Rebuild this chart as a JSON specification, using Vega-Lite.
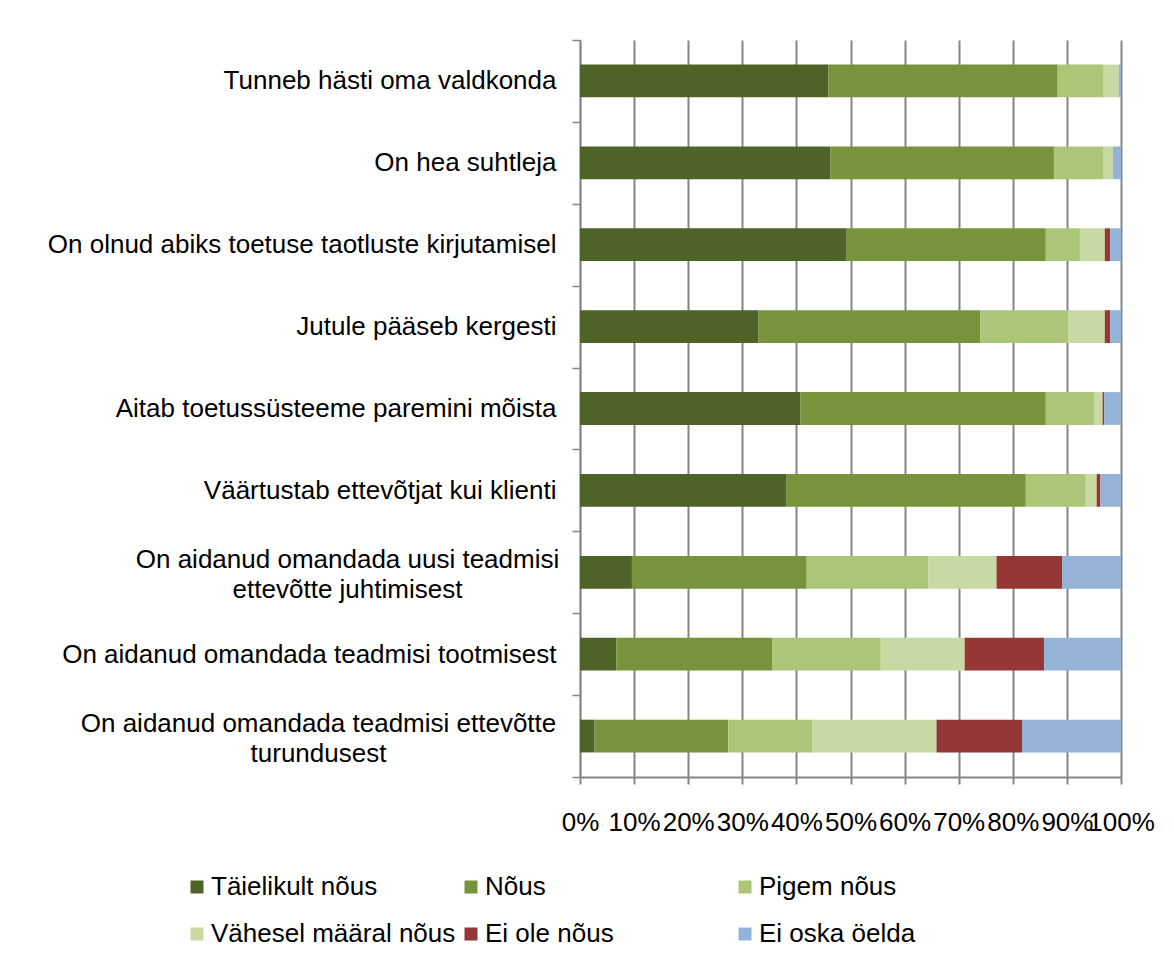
{
  "$schema": "https://vega.github.io/schema/vega-lite/v6.json",
  "width": 541,
  "height": 737,
  "autosize": {"type": "none"},
  "padding": {"left": 580, "top": 40, "right": 53, "bottom": 183},
  "background": "white",
  "config": {"view": {"stroke": null}, "font": "Liberation Sans"},
  "data": {"values": [
    {"q": "Tunneb hästi oma valdkonda", "n": 1, "s": "Täielikult nõus", "v": 45.9},
    {"q": "Tunneb hästi oma valdkonda", "n": 2, "s": "Nõus", "v": 42.4},
    {"q": "Tunneb hästi oma valdkonda", "n": 3, "s": "Pigem nõus", "v": 8.5},
    {"q": "Tunneb hästi oma valdkonda", "n": 4, "s": "Vähesel määral nõus", "v": 2.8},
    {"q": "Tunneb hästi oma valdkonda", "n": 5, "s": "Ei ole nõus", "v": 0},
    {"q": "Tunneb hästi oma valdkonda", "n": 6, "s": "Ei oska öelda", "v": 0.4},
    {"q": "On hea suhtleja", "n": 1, "s": "Täielikult nõus", "v": 46.3},
    {"q": "On hea suhtleja", "n": 2, "s": "Nõus", "v": 41.3},
    {"q": "On hea suhtleja", "n": 3, "s": "Pigem nõus", "v": 9.2},
    {"q": "On hea suhtleja", "n": 4, "s": "Vähesel määral nõus", "v": 1.7},
    {"q": "On hea suhtleja", "n": 5, "s": "Ei ole nõus", "v": 0},
    {"q": "On hea suhtleja", "n": 6, "s": "Ei oska öelda", "v": 1.5},
    {"q": "On olnud abiks toetuse taotluste kirjutamisel", "n": 1, "s": "Täielikult nõus", "v": 49.3},
    {"q": "On olnud abiks toetuse taotluste kirjutamisel", "n": 2, "s": "Nõus", "v": 36.8},
    {"q": "On olnud abiks toetuse taotluste kirjutamisel", "n": 3, "s": "Pigem nõus", "v": 6.3},
    {"q": "On olnud abiks toetuse taotluste kirjutamisel", "n": 4, "s": "Vähesel määral nõus", "v": 4.6},
    {"q": "On olnud abiks toetuse taotluste kirjutamisel", "n": 5, "s": "Ei ole nõus", "v": 1.0},
    {"q": "On olnud abiks toetuse taotluste kirjutamisel", "n": 6, "s": "Ei oska öelda", "v": 2.0},
    {"q": "Jutule pääseb kergesti", "n": 1, "s": "Täielikult nõus", "v": 33.0},
    {"q": "Jutule pääseb kergesti", "n": 2, "s": "Nõus", "v": 41.0},
    {"q": "Jutule pääseb kergesti", "n": 3, "s": "Pigem nõus", "v": 16.2},
    {"q": "Jutule pääseb kergesti", "n": 4, "s": "Vähesel määral nõus", "v": 6.8},
    {"q": "Jutule pääseb kergesti", "n": 5, "s": "Ei ole nõus", "v": 1.0},
    {"q": "Jutule pääseb kergesti", "n": 6, "s": "Ei oska öelda", "v": 2.0},
    {"q": "Aitab toetussüsteeme paremini mõista", "n": 1, "s": "Täielikult nõus", "v": 40.7},
    {"q": "Aitab toetussüsteeme paremini mõista", "n": 2, "s": "Nõus", "v": 45.4},
    {"q": "Aitab toetussüsteeme paremini mõista", "n": 3, "s": "Pigem nõus", "v": 8.9},
    {"q": "Aitab toetussüsteeme paremini mõista", "n": 4, "s": "Vähesel määral nõus", "v": 1.6},
    {"q": "Aitab toetussüsteeme paremini mõista", "n": 5, "s": "Ei ole nõus", "v": 0.3},
    {"q": "Aitab toetussüsteeme paremini mõista", "n": 6, "s": "Ei oska öelda", "v": 3.1},
    {"q": "Väärtustab ettevõtjat kui klienti", "n": 1, "s": "Täielikult nõus", "v": 38.2},
    {"q": "Väärtustab ettevõtjat kui klienti", "n": 2, "s": "Nõus", "v": 44.2},
    {"q": "Väärtustab ettevõtjat kui klienti", "n": 3, "s": "Pigem nõus", "v": 11.1},
    {"q": "Väärtustab ettevõtjat kui klienti", "n": 4, "s": "Vähesel määral nõus", "v": 2.0},
    {"q": "Väärtustab ettevõtjat kui klienti", "n": 5, "s": "Ei ole nõus", "v": 0.7},
    {"q": "Väärtustab ettevõtjat kui klienti", "n": 6, "s": "Ei oska öelda", "v": 3.8},
    {"q": "On aidanud omandada uusi teadmisi ettevõtte juhtimisest", "n": 1, "s": "Täielikult nõus", "v": 9.6},
    {"q": "On aidanud omandada uusi teadmisi ettevõtte juhtimisest", "n": 2, "s": "Nõus", "v": 32.3},
    {"q": "On aidanud omandada uusi teadmisi ettevõtte juhtimisest", "n": 3, "s": "Pigem nõus", "v": 22.5},
    {"q": "On aidanud omandada uusi teadmisi ettevõtte juhtimisest", "n": 4, "s": "Vähesel määral nõus", "v": 12.6},
    {"q": "On aidanud omandada uusi teadmisi ettevõtte juhtimisest", "n": 5, "s": "Ei ole nõus", "v": 12.1},
    {"q": "On aidanud omandada uusi teadmisi ettevõtte juhtimisest", "n": 6, "s": "Ei oska öelda", "v": 10.9},
    {"q": "On aidanud omandada teadmisi tootmisest", "n": 1, "s": "Täielikult nõus", "v": 6.7},
    {"q": "On aidanud omandada teadmisi tootmisest", "n": 2, "s": "Nõus", "v": 28.8},
    {"q": "On aidanud omandada teadmisi tootmisest", "n": 3, "s": "Pigem nõus", "v": 20.1},
    {"q": "On aidanud omandada teadmisi tootmisest", "n": 4, "s": "Vähesel määral nõus", "v": 15.5},
    {"q": "On aidanud omandada teadmisi tootmisest", "n": 5, "s": "Ei ole nõus", "v": 14.7},
    {"q": "On aidanud omandada teadmisi tootmisest", "n": 6, "s": "Ei oska öelda", "v": 14.2},
    {"q": "On aidanud omandada teadmisi ettevõtte turundusest", "n": 1, "s": "Täielikult nõus", "v": 2.7},
    {"q": "On aidanud omandada teadmisi ettevõtte turundusest", "n": 2, "s": "Nõus", "v": 24.7},
    {"q": "On aidanud omandada teadmisi ettevõtte turundusest", "n": 3, "s": "Pigem nõus", "v": 15.5},
    {"q": "On aidanud omandada teadmisi ettevõtte turundusest", "n": 4, "s": "Vähesel määral nõus", "v": 23.0},
    {"q": "On aidanud omandada teadmisi ettevõtte turundusest", "n": 5, "s": "Ei ole nõus", "v": 15.8},
    {"q": "On aidanud omandada teadmisi ettevõtte turundusest", "n": 6, "s": "Ei oska öelda", "v": 18.3}
  ]},
  "mark": {"type": "bar", "height": {"band": 0.4}},
  "encoding": {
    "y": {
      "field": "q", "type": "nominal", "sort": null, "title": null,
      "scale": {"paddingInner": 0, "paddingOuter": 0},
      "axis": {
        "tickBand": "extent",
        "domainColor": "#868686", "domainWidth": 1.5,
        "tickColor": "#868686", "tickWidth": 1.5, "tickSize": 8,
        "labelFontSize": 26, "labelColor": "#000000", "labelLimit": 0,
        "labelLineHeight": 30,
        "labelPadding": {"condition": [
          {"test": "datum.value == 'On aidanud omandada uusi teadmisi ettevõtte juhtimisest'", "value": 225},
          {"test": "datum.value == 'On aidanud omandada teadmisi ettevõtte turundusest'", "value": 254}
        ], "value": 16},
        "labelOffset": {"condition": {"test": "datum.value == 'On aidanud omandada uusi teadmisi ettevõtte juhtimisest' || datum.value == 'On aidanud omandada teadmisi ettevõtte turundusest'", "value": -13}, "value": 0},
        "labelAlign": {"condition": {"test": "datum.value == 'On aidanud omandada uusi teadmisi ettevõtte juhtimisest' || datum.value == 'On aidanud omandada teadmisi ettevõtte turundusest'", "value": "center"}, "value": "right"},
        "labelExpr": "datum.label == 'On aidanud omandada uusi teadmisi ettevõtte juhtimisest' ? ['On aidanud omandada uusi teadmisi', 'ettevõtte juhtimisest'] : datum.label == 'On aidanud omandada teadmisi ettevõtte turundusest' ? ['On aidanud omandada teadmisi ettevõtte', 'turundusest'] : datum.label"
      }
    },
    "x": {
      "field": "v", "type": "quantitative", "stack": "zero", "title": null,
      "scale": {"domain": [0, 100], "nice": false},
      "axis": {
        "values": [0, 10, 20, 30, 40, 50, 60, 70, 80, 90, 100],
        "labelExpr": "datum.value + '%'",
        "grid": true, "gridColor": "#868686", "gridWidth": 2,
        "domainColor": "#868686", "domainWidth": 2,
        "tickColor": "#868686", "tickWidth": 2, "tickSize": 7,
        "labelFontSize": 26, "labelColor": "#000000",
        "labelPadding": 25, "labelOverlap": false, "labelFlush": false, "labelBound": false
      }
    },
    "color": {
      "field": "s", "type": "nominal",
      "scale": {
        "domain": ["Täielikult nõus", "Nõus", "Pigem nõus", "Vähesel määral nõus", "Ei ole nõus", "Ei oska öelda"],
        "range": ["#4F6228", "#77933C", "#ACC679", "#C8D9A3", "#953735", "#95B3D7"]
      },
      "legend": {
        "title": null, "orient": "none", "legendX": -396, "legendY": 834,
        "direction": "horizontal", "columns": 3, "gridAlign": "all",
        "columnPadding": 2, "rowPadding": 21, "padding": 0,
        "symbolType": "square", "symbolSize": 169, "symbolStrokeWidth": 0,
        "labelFontSize": 26, "labelColor": "#000000", "labelOffset": 1, "labelLimit": 0
      }
    },
    "order": {"field": "n"}
  }
}
